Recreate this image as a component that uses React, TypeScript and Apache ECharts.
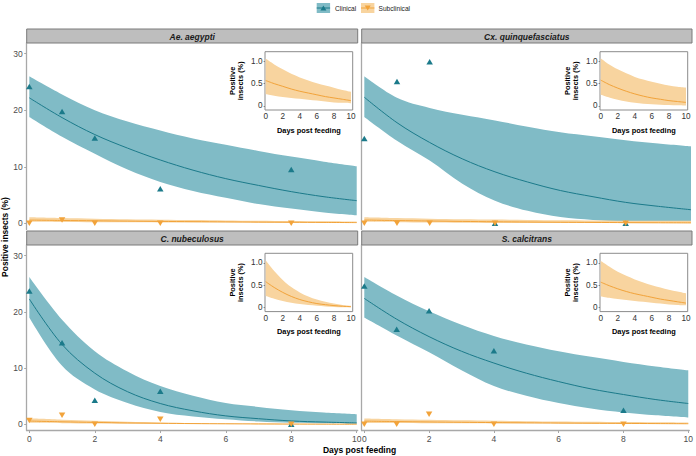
import React, { useEffect, useRef } from "react";
import * as echarts from "echarts";

// ---------- data ----------
const FIT_DAYS = [0, 1, 2, 3, 4, 5, 6, 7, 8, 9, 10];
const OBS_DAYS = [0, 1, 2, 4, 8];
const SPECIES = ["Ae. aegypti", "Cx. quinquefasciatus", "C. nubeculosus", "S. calcitrans"];
const MAIN_Y_TICKS = [0, 10, 20, 30];
const X_TICKS = [0, 2, 4, 6, 8, 10];
const INSET_Y_TICKS = [0, 0.5, 1.0];
const LEGEND_NAMES = ["Clinical", "Subclinical"];

// Clinical: observed points, fitted curve, CI
const AE_CLIN_OBS = [24.2, 19.8, 15.1, 6.1, 9.5];
const AE_CLIN_FIT = [22.2, 18.7, 15.7, 13.3, 11.2, 9.4, 7.9, 6.7, 5.6, 4.7, 4.0];
const AE_CLIN_UP = [26.0, 22.8, 20.0, 18.0, 16.4, 15.0, 13.9, 12.8, 11.8, 10.9, 10.1];
const AE_CLIN_LO = [18.8, 15.3, 12.3, 9.5, 7.3, 5.7, 4.5, 3.4, 2.6, 1.9, 1.4];

const CX_CLIN_OBS = [15.0, 25.1, 28.6, 0, 0];
const CX_CLIN_FIT = [22.3, 17.8, 14.3, 11.4, 9.1, 7.3, 5.8, 4.7, 3.7, 3.0, 2.4];
const CX_CLIN_UP = [26.0, 22.2, 20.4, 19.2, 18.2, 17.1, 16.1, 15.4, 14.7, 14.1, 13.6];
const CX_CLIN_LO = [18.8, 14.6, 11.1, 7.0, 4.0, 2.2, 1.1, 0.6, 0.3, 0.15, 0.1];

const CN_CLIN_OBS = [23.7, 14.5, 4.3, 5.9, 0];
const CN_CLIN_FIT = [22.3, 14.2, 9.1, 5.8, 3.7, 2.4, 1.5, 1.0, 0.6, 0.4, 0.25];
const CN_CLIN_UP = [26.2, 18.6, 13.0, 9.4, 6.8, 5.1, 3.8, 3.1, 2.5, 2.1, 1.8];
const CN_CLIN_LO = [19.0, 10.4, 6.2, 3.8, 2.2, 1.4, 0.9, 0.5, 0.3, 0.2, 0.1];

const SC_CLIN_OBS = [24.6, 16.9, 20.2, 13.1, 2.5];
const SC_CLIN_FIT = [22.4, 18.7, 15.6, 13.0, 10.9, 9.1, 7.6, 6.3, 5.3, 4.4, 3.7];
const SC_CLIN_UP = [26.2, 22.9, 20.1, 17.7, 15.7, 14.2, 13.0, 12.0, 11.1, 10.3, 9.6];
const SC_CLIN_LO = [19.0, 15.8, 12.8, 9.6, 6.8, 5.1, 3.8, 2.8, 2.1, 1.6, 1.2];

// Subclinical: observed points, fitted curve, CI
const AE_SUB_OBS = [0, 0.6, 0, 0, 0];
const AE_SUB_FIT = [0.57, 0.5, 0.44, 0.38, 0.33, 0.29, 0.25, 0.21, 0.18, 0.15, 0.12];
const AE_SUB_UP = [1.06, 0.93, 0.82, 0.72, 0.64, 0.57, 0.51, 0.46, 0.41, 0.36, 0.32];
const AE_SUB_LO = [0.26, 0.23, 0.2, 0.18, 0.16, 0.14, 0.12, 0.1, 0.08, 0.07, 0.06];

const CX_SUB_OBS = [0, 0, 0, 0, 0];
const CX_SUB_FIT = [0.58, 0.48, 0.4, 0.33, 0.27, 0.22, 0.18, 0.15, 0.12, 0.1, 0.08];
const CX_SUB_UP = [1.07, 0.93, 0.82, 0.73, 0.65, 0.59, 0.54, 0.5, 0.46, 0.43, 0.41];
const CX_SUB_LO = [0.25, 0.19, 0.14, 0.1, 0.07, 0.05, 0.04, 0.03, 0.02, 0.015, 0.01];

const CN_SUB_OBS = [0.7, 1.6, 0, 0.9, 0];
const CN_SUB_FIT = [0.58, 0.45, 0.34, 0.25, 0.18, 0.13, 0.09, 0.065, 0.045, 0.03, 0.02];
const CN_SUB_UP = [1.06, 0.82, 0.62, 0.46, 0.34, 0.25, 0.18, 0.13, 0.09, 0.06, 0.04];
const CN_SUB_LO = [0.26, 0.2, 0.15, 0.11, 0.08, 0.055, 0.04, 0.025, 0.015, 0.01, 0.005];

const SC_SUB_OBS = [0, 0, 1.8, 0, 0];
const SC_SUB_FIT = [0.57, 0.49, 0.42, 0.36, 0.31, 0.27, 0.23, 0.19, 0.16, 0.13, 0.1];
const SC_SUB_UP = [1.05, 0.92, 0.8, 0.71, 0.63, 0.56, 0.5, 0.45, 0.4, 0.36, 0.32];
const SC_SUB_LO = [0.25, 0.22, 0.19, 0.17, 0.15, 0.13, 0.11, 0.09, 0.07, 0.06, 0.05];

// ---------- styles & layout ----------
const FONT = "Liberation Sans, Arial, sans-serif";
const TEAL = "#1B7A8A";
const TEAL_RIB = "#80BBC6";
const ORANGE = "#F2A33A";
const ORANGE_RIB = "#F8D49F";
const AXIS_GREY = "#A8A8A8";
const TICK_TXT = "#4D4D4D";

const PANELS = [
  { left: 26.7, top: 43, width: 331, height: 186.5, bottomRow: false, leftCol: true },
  { left: 361.7, top: 43, width: 330.3, height: 186.5, bottomRow: false, leftCol: false },
  { left: 26.7, top: 245, width: 331, height: 185.5, bottomRow: true, leftCol: true },
  { left: 361.7, top: 245, width: 330.3, height: 185.5, bottomRow: true, leftCol: false },
];
const INSETS = [
  { left: 265, top: 51.7 },
  { left: 600, top: 51.7 },
  { left: 265, top: 253.3 },
  { left: 600, top: 253.3 },
];
const INSET_W = 87.7;
const INSET_H = 58.3;
const STRIP_H = 14;

const DATA = [
  { clinObs: AE_CLIN_OBS, clinFit: AE_CLIN_FIT, clinUp: AE_CLIN_UP, clinLo: AE_CLIN_LO, subObs: AE_SUB_OBS, subFit: AE_SUB_FIT, subUp: AE_SUB_UP, subLo: AE_SUB_LO },
  { clinObs: CX_CLIN_OBS, clinFit: CX_CLIN_FIT, clinUp: CX_CLIN_UP, clinLo: CX_CLIN_LO, subObs: CX_SUB_OBS, subFit: CX_SUB_FIT, subUp: CX_SUB_UP, subLo: CX_SUB_LO },
  { clinObs: CN_CLIN_OBS, clinFit: CN_CLIN_FIT, clinUp: CN_CLIN_UP, clinLo: CN_CLIN_LO, subObs: CN_SUB_OBS, subFit: CN_SUB_FIT, subUp: CN_SUB_UP, subLo: CN_SUB_LO },
  { clinObs: SC_CLIN_OBS, clinFit: SC_CLIN_FIT, clinUp: SC_CLIN_UP, clinLo: SC_CLIN_LO, subObs: SC_SUB_OBS, subFit: SC_SUB_FIT, subUp: SC_SUB_UP, subLo: SC_SUB_LO },
];

// Ribbon = stacked pair (lower, upper - lower). The value is put in the first
// dimension (encoded on y) so that ECharts stacks the y values.
function ribbon(id: string, axis: number, lo: number[], up: number[], color: string, z: number) {
  const common = {
    type: "line", xAxisIndex: axis, yAxisIndex: axis, stack: id, smooth: 0.35, symbol: "none",
    encode: { x: 1, y: 0 }, lineStyle: { opacity: 0 }, silent: true, z,
  };
  return [
    { ...common, name: id + "-lo", data: FIT_DAYS.map((d, i) => [lo[i], d]) },
    { ...common, name: id + "-band", data: FIT_DAYS.map((d, i) => [up[i] - lo[i], d]), areaStyle: { color, opacity: 1 } },
  ];
}
function fitLine(axis: number, fit: number[], color: string, z: number) {
  return {
    type: "line", xAxisIndex: axis, yAxisIndex: axis, smooth: 0.35, symbol: "none", z,
    data: FIT_DAYS.map((d, i) => [d, fit[i]]), lineStyle: { color, width: 1 }, silent: true,
  };
}
function points(axis: number, obs: number[], color: string, down: boolean, z: number) {
  return {
    type: "scatter", xAxisIndex: axis, yAxisIndex: axis, symbol: "triangle", z,
    symbolSize: [6.5, 5.5], symbolRotate: down ? 180 : 0,
    data: OBS_DAYS.map((d, i) => [d, obs[i]]), itemStyle: { color, opacity: 1 }, silent: true,
  };
}

function buildOption() {
  const grid: any[] = [];
  const xAxis: any[] = [];
  const yAxis: any[] = [];
  const series: any[] = [];
  const graphic: any[] = [];

  PANELS.forEach((p, k) => {
    grid.push({ left: p.left, top: p.top, width: p.width, height: p.height, containLabel: false });
    xAxis.push({
      type: "value", gridIndex: k, min: -0.08, max: 10.03,
      axisLine: { show: p.bottomRow, onZero: false, lineStyle: { color: AXIS_GREY, width: 1.3 } },
      axisTick: { show: p.bottomRow, customValues: X_TICKS, length: 2.5, lineStyle: { color: AXIS_GREY } },
      axisLabel: { show: p.bottomRow, customValues: X_TICKS, margin: 3.5, fontSize: 8.5, color: TICK_TXT, fontFamily: FONT },
      splitLine: { show: false },
    });
    yAxis.push({
      type: "value", gridIndex: k, min: -1.1, max: 31.9,
      axisLine: { show: true, onZero: false, lineStyle: { color: AXIS_GREY, width: 1.3 } },
      axisTick: { show: p.leftCol, customValues: MAIN_Y_TICKS, length: 2.5, lineStyle: { color: AXIS_GREY } },
      axisLabel: { show: p.leftCol, customValues: MAIN_Y_TICKS, margin: 4, fontSize: 8.5, color: TICK_TXT, fontFamily: FONT },
      splitLine: { show: false },
    });
    graphic.push({
      type: "rect", shape: { x: p.left, y: p.top - STRIP_H, width: p.width, height: STRIP_H },
      style: { fill: "#BEBEBE", stroke: "#7A7A7A", lineWidth: 1 }, z: 10,
    });
    graphic.push({
      type: "text", x: p.left + p.width / 2, y: p.top - STRIP_H / 2 + 0.5, z: 11,
      style: {
        text: SPECIES[k], fill: "#1A1A1A", font: "italic bold 8.5px " + FONT,
        textAlign: "center", textVerticalAlign: "middle",
      },
    });
  });

  INSETS.forEach((q, k) => {
    const gi = 4 + k;
    grid.push({
      left: q.left, top: q.top, width: INSET_W, height: INSET_H, show: true,
      backgroundColor: "#FFFFFF", borderColor: "#8C8C8C", borderWidth: 1, z: 5,
    });
    xAxis.push({
      type: "value", gridIndex: gi, min: -0.08, max: 10.2,
      name: "Days post feeding", nameLocation: "middle", nameGap: 16.5,
      nameTextStyle: { fontSize: 7.4, fontWeight: "bold", color: "#000", fontFamily: FONT },
      axisLine: { show: false },
      axisTick: { show: true, customValues: X_TICKS, length: 2, lineStyle: { color: "#777" } },
      axisLabel: { show: true, customValues: X_TICKS, margin: 2.5, fontSize: 8.2, color: "#333", fontFamily: FONT },
      splitLine: { show: false },
    });
    yAxis.push({
      type: "value", gridIndex: gi, min: -0.09, max: 1.215,
      name: "Positive\ninsects (%)", nameLocation: "middle", nameGap: 21, nameRotate: 90,
      nameTextStyle: { fontSize: 7.4, fontWeight: "bold", color: "#000", fontFamily: FONT, lineHeight: 7.5 },
      axisLine: { show: false },
      axisTick: { show: true, customValues: INSET_Y_TICKS, length: 2, lineStyle: { color: "#777" } },
      axisLabel: {
        show: true, customValues: INSET_Y_TICKS, margin: 2.5, fontSize: 8.2, color: "#333", fontFamily: FONT,
        formatter: (v: number) => (v === 0 ? "0" : v.toFixed(1)),
      },
      splitLine: { show: false },
    });
  });

  DATA.forEach((d, k) => {
    series.push(...ribbon("clin" + k, k, d.clinLo, d.clinUp, TEAL_RIB, 2));
    series.push(...ribbon("sub" + k, k, d.subLo, d.subUp, ORANGE_RIB, 2.5));
    series.push(fitLine(k, d.clinFit, TEAL, 3));
    series.push(fitLine(k, d.subFit, ORANGE, 3));
    series.push(points(k, d.clinObs, TEAL, false, 4));
    series.push(points(k, d.subObs, ORANGE, true, 4.5));
  });
  DATA.forEach((d, k) => {
    const gi = 4 + k;
    series.push(...ribbon("inset" + k, gi, d.subLo, d.subUp, ORANGE_RIB, 6));
    series.push(fitLine(gi, d.subFit, ORANGE, 7));
  });

  graphic.push({
    type: "text", x: 5, y: 237, rotation: Math.PI / 2, z: 11,
    style: { text: "Positive insects (%)", font: "bold 8.5px " + FONT, fill: "#000", textAlign: "center", textVerticalAlign: "middle" },
  });
  graphic.push({
    type: "text", x: 359.5, y: 450, z: 11,
    style: { text: "Days post feeding", font: "bold 8.5px " + FONT, fill: "#000", textAlign: "center", textVerticalAlign: "middle" },
  });

  const keys = [
    { x: 316.7, fill: TEAL_RIB, line: TEAL, down: false, tx: 335, name: LEGEND_NAMES[0] },
    { x: 361, fill: ORANGE_RIB, line: ORANGE, down: true, tx: 378.5, name: LEGEND_NAMES[1] },
  ];
  keys.forEach((kk) => {
    const cx = kk.x + 6.7;
    const cy = 8;
    graphic.push({ type: "rect", shape: { x: kk.x, y: 3, width: 13.4, height: 10 }, style: { fill: kk.fill }, z: 11 });
    graphic.push({ type: "line", shape: { x1: kk.x, y1: cy, x2: kk.x + 13.4, y2: cy }, style: { stroke: kk.line, lineWidth: 1 }, z: 12 });
    graphic.push({
      type: "polygon", z: 12,
      shape: {
        points: kk.down
          ? [[cx - 3, cy - 2.5], [cx + 3, cy - 2.5], [cx, cy + 2.5]]
          : [[cx - 3, cy + 2.5], [cx + 3, cy + 2.5], [cx, cy - 2.5]],
      },
      style: { fill: kk.line },
    });
    graphic.push({
      type: "text", x: kk.tx, y: cy + 0.5, z: 12,
      style: { text: kk.name, font: "6.6px " + FONT, fill: "#222", textVerticalAlign: "middle" },
    });
  });

  return { animation: false, backgroundColor: "#FFFFFF", grid, xAxis, yAxis, series, graphic };
}

export default function App() {
  const ref = useRef<HTMLDivElement>(null);
  useEffect(() => {
    if (!ref.current) return;
    const chart = echarts.init(ref.current, undefined, { renderer: "svg" });
    chart.setOption(buildOption() as any);
    return () => chart.dispose();
  }, []);
  return <div ref={ref} style={{ position: "fixed", left: 0, top: 0, width: 696, height: 456 }} />;
}
